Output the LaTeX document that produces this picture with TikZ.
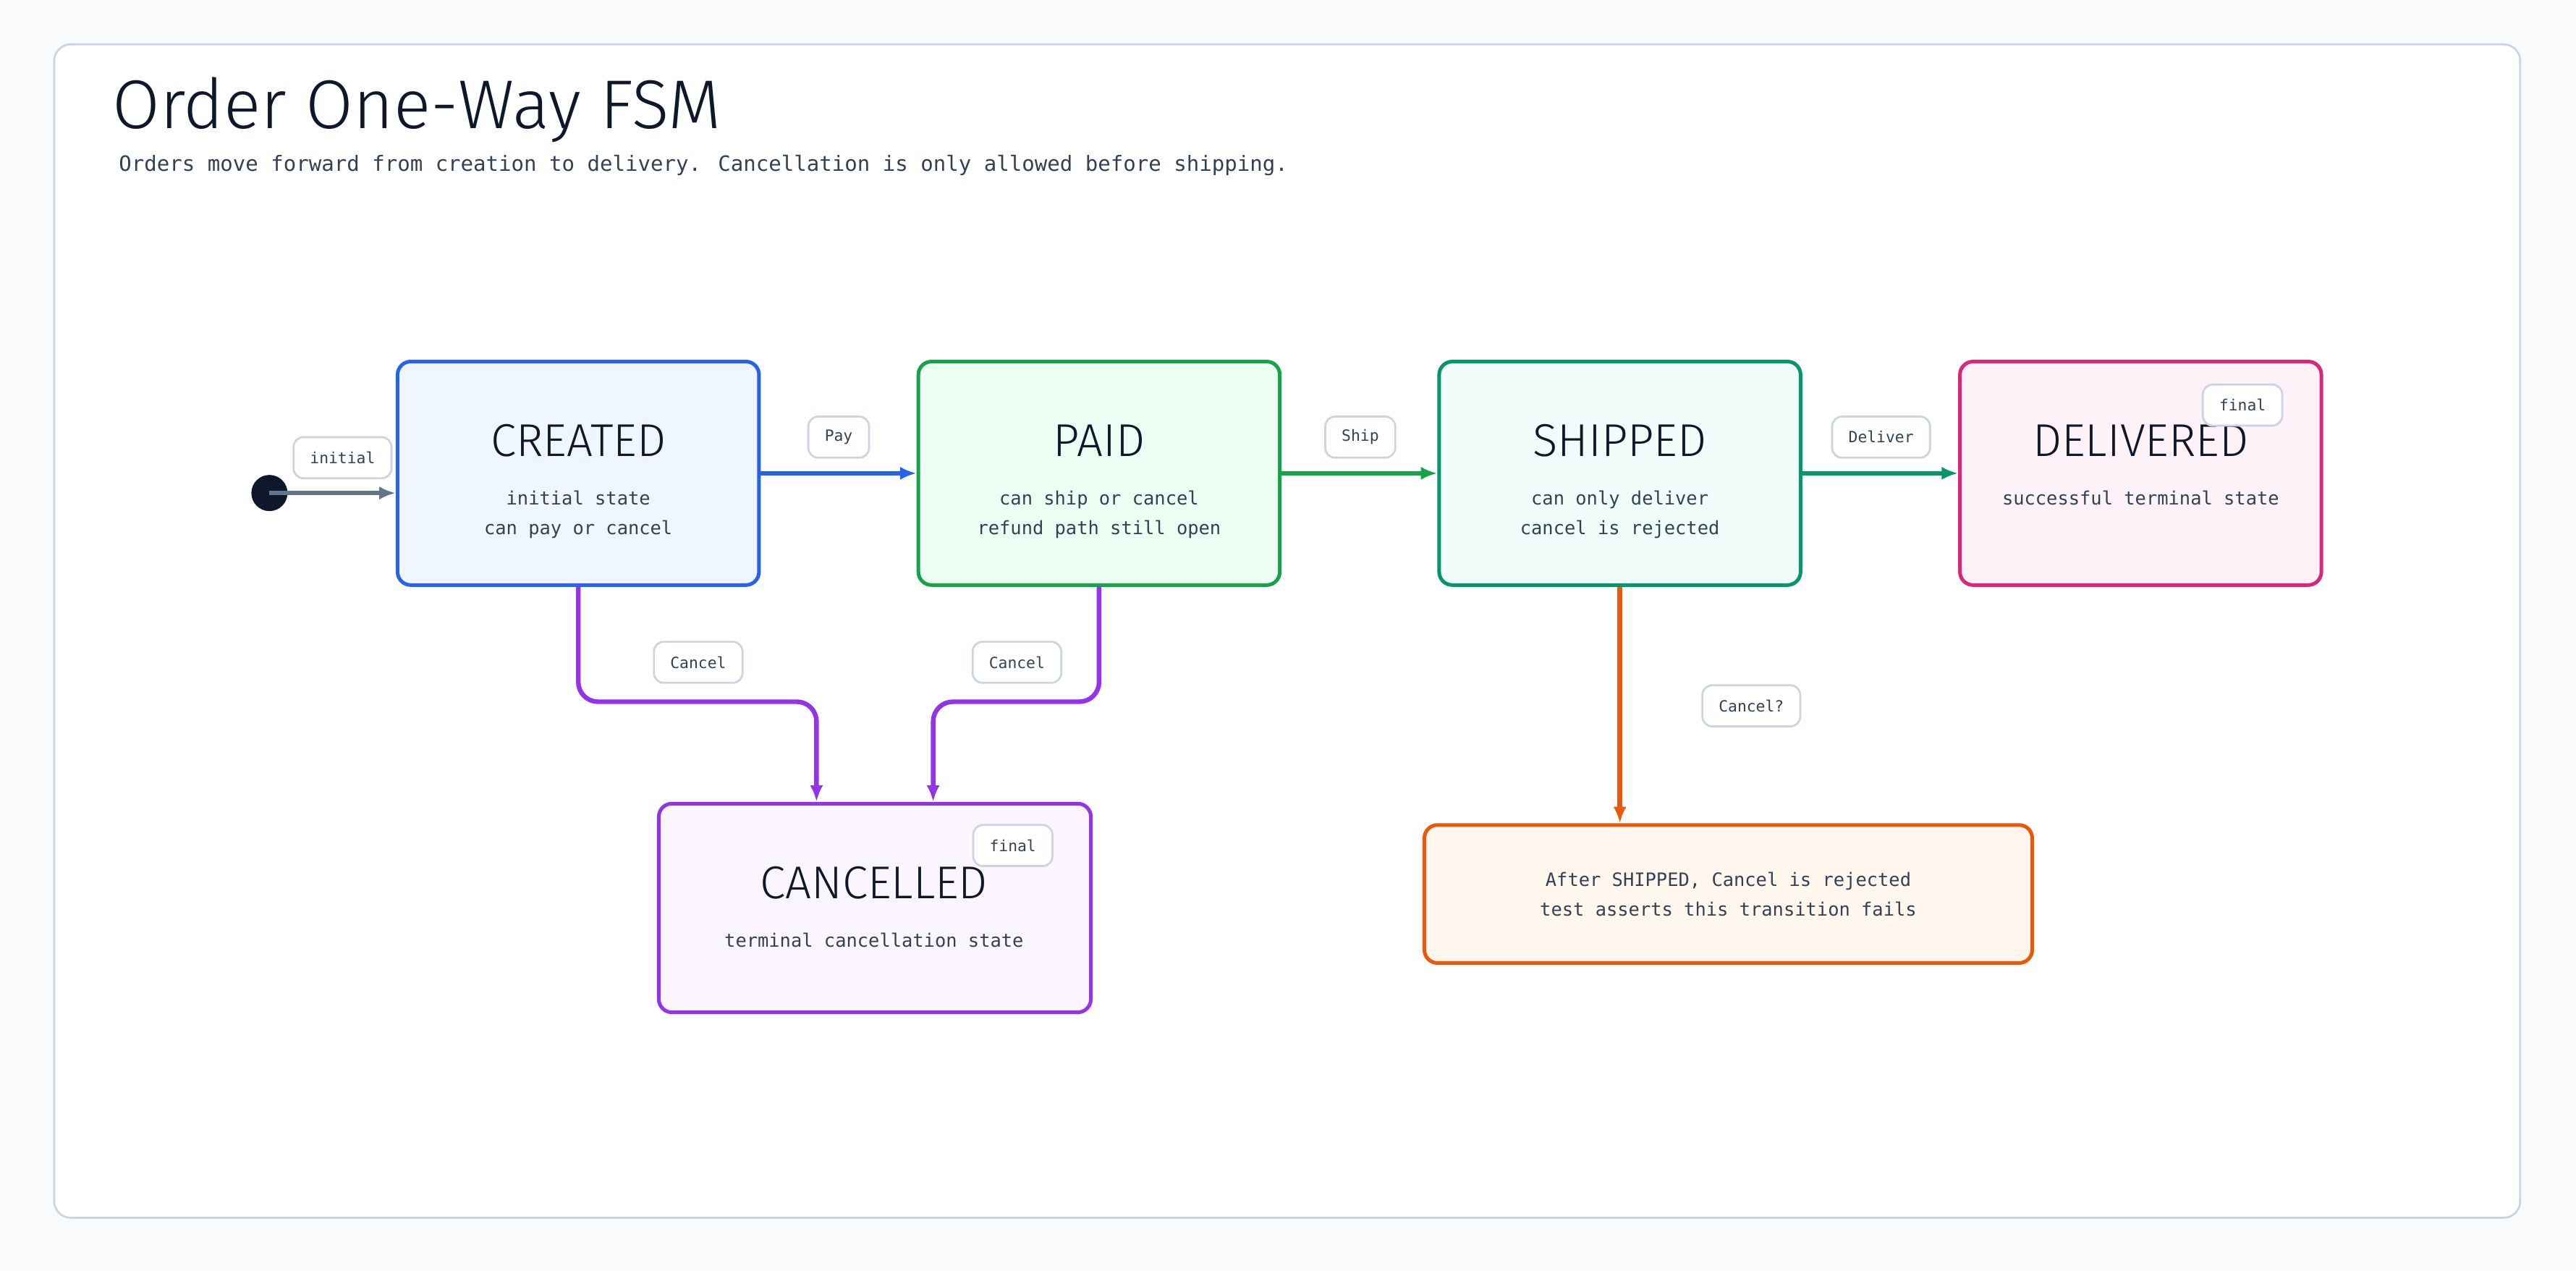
\documentclass[tikz,border=0pt]{standalone}
\usepackage{fontspec}
\setmainfont{Fira Sans}
\newfontfamily\monof{DejaVu Sans Mono}
\newfontfamily\headf{Fira Sans Light}
\usetikzlibrary{calc,arrows.meta}
\definecolor{bg}{HTML}{F8FAFC}
\definecolor{frame}{HTML}{CBD5E1}
\definecolor{ink}{HTML}{0F172A}
\definecolor{txt}{HTML}{334155}
\definecolor{cblue}{HTML}{2563EB}\definecolor{fblue}{HTML}{EFF6FF}
\definecolor{cgreen}{HTML}{16A34A}\definecolor{fgreen}{HTML}{ECFDF3}
\definecolor{cteal}{HTML}{059669}\definecolor{fteal}{HTML}{F0FDFA}
\definecolor{cpink}{HTML}{DB2777}\definecolor{fpink}{HTML}{FDF2F8}
\definecolor{cpurp}{HTML}{9333EA}\definecolor{fpurp}{HTML}{FAF5FF}
\definecolor{corng}{HTML}{EA580C}\definecolor{forng}{HTML}{FFF7ED}
\definecolor{cgray}{HTML}{64748B}
\begin{document}
\begin{tikzpicture}[x=0.5pt,y=-0.5pt,
  state/.style={draw=#1,line width=1.1pt,rounded corners=4pt,minimum width=110pt,minimum height=68pt,inner sep=0pt},
  ttl/.style={font=\headf\fontsize{14}{16}\selectfont,text=ink},
  sub/.style={font=\monof\fontsize{5.6}{7}\selectfont,text=txt,align=center},
  lbl/.style={draw=frame,fill=white,rounded corners=3pt,line width=0.6pt,font=\monof\fontsize{4.7}{6}\selectfont,text=txt,minimum height=12.5pt,inner xsep=5pt},
  arr/.style={line width=1.4pt,draw=#1,-{Latex[length=5pt,width=4pt]},rounded corners=6pt}]
\fill[bg] (0,0) rectangle (1568,773);
\draw[frame,fill=white,line width=0.6pt,rounded corners=5pt] (33,27) rectangle (1534,741);
\node[anchor=base west,inner sep=0,font=\headf\fontsize{21}{24}\selectfont,text=ink] (title) at (68,78) {Order One-Way FSM};
\node[anchor=base west,inner sep=0,font=\monof\fontsize{6.4}{8}\selectfont,text=txt] (subt) at (72,104) {Orders move forward from creation to delivery. Cancellation is only allowed before shipping.};

\node[state=cblue,fill=fblue] (created) at (352,288) {};
\node[state=cgreen,fill=fgreen] (paid) at (669,288) {};
\node[state=cteal,fill=fteal] (shipped) at (986,288) {};
\node[state=cpink,fill=fpink] (delivered) at (1303,288) {};
\node[state=cpurp,fill=fpurp,minimum width=131.5pt,minimum height=63.5pt] (cancelled) at (532.5,552.5) {};
\node[draw=corng,fill=forng,line width=1.1pt,rounded corners=4pt,minimum width=185pt,minimum height=42pt] (note) at (1052,544) {};

\node[ttl] (t1) at (352,268) {CREATED};
\node[sub] (s1) at (352,313) {initial state\\[2pt]can pay or cancel};
\node[ttl] (t2) at (669,268) {PAID};
\node[sub] (s2) at (669,313) {can ship or cancel\\[2pt]refund path still open};
\node[ttl] (t3) at (986,268) {SHIPPED};
\node[sub] (s3) at (986,313) {can only deliver\\[2pt]cancel is rejected};
\node[ttl] (t4) at (1303,268) {DELIVERED};
\node[sub] (s4) at (1303,303) {successful terminal state};
\node[ttl] (t5) at (532,537) {CANCELLED};
\node[sub] (s5) at (532,572) {terminal cancellation state};
\node[sub] (s6) at (1052,544) {After SHIPPED, Cancel is rejected\\[2pt]test asserts this transition fails};
\node[lbl] (f1) at (1365,246.5) {final};
\node[lbl] (f2) at (616.5,514.5) {final};

\fill[ink] (164,300) circle (5.5pt) coordinate (start);
\coordinate (startp) at (164,300);
\draw[arr=cgray] (startp) -- (created.west |- startp);
\node[lbl] (l0) at (208.5,278.5) {initial};

\draw[arr=cblue] (created.east) -- (paid.west);
\node[lbl] (l1) at (510.5,266) {Pay};
\draw[arr=cgreen] (paid.east) -- (shipped.west);
\node[lbl] (l2) at (828,266) {Ship};
\draw[arr=cteal] (shipped.east) -- (delivered.west);
\node[lbl] (l3) at (1145,266) {Deliver};

\draw[arr=cpurp] (created.south) -- (352,427) -- (497,427) -- ($(cancelled.north)+(-35.5,0)$);
\node[lbl] (l4) at (425,403) {Cancel};
\draw[arr=cpurp] (paid.south) -- (669,427) -- (568,427) -- ($(cancelled.north)+(35.5,0)$);
\node[lbl] (l5) at (619,403) {Cancel};
\draw[arr=corng] (shipped.south) -- (shipped.south |- note.north);
\node[lbl] (l6) at (1066,429.5) {Cancel?};
\end{tikzpicture}
\end{document}
